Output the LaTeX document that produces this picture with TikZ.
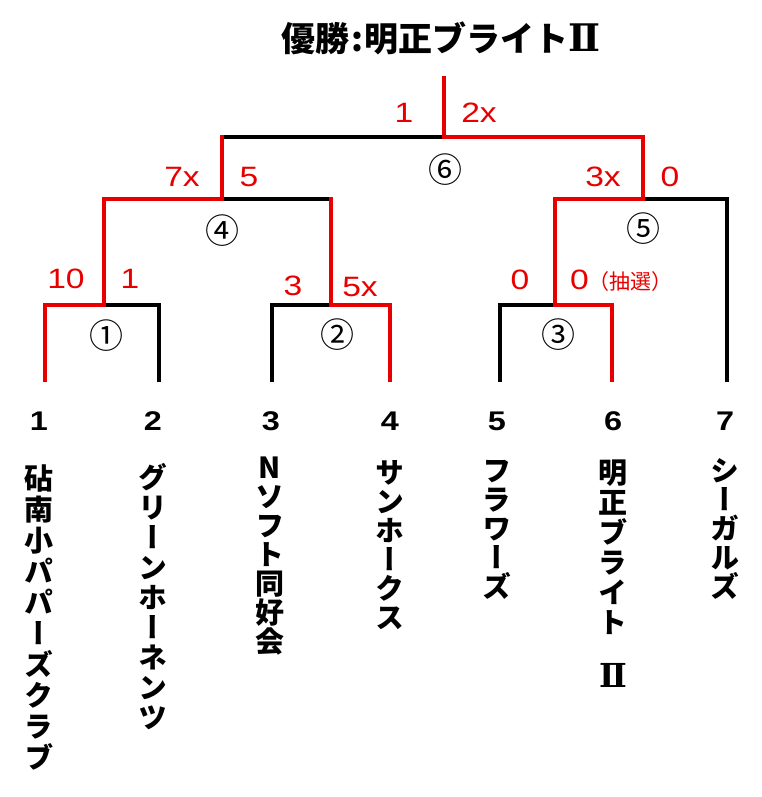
\documentclass[tikz,border=0pt]{standalone}
\usepackage{fontspec}
\newfontfamily\jp{Noto Sans CJK JP}
\newfontfamily\jpv[RawFeature=+vert]{Noto Sans CJK JP}
\newfontfamily\numf[FakeStretch=1.2]{Liberation Sans}
\newfontfamily\romB{DejaVu Serif}
\definecolor{wred}{RGB}{232,0,0}
\tikzset{
  bline/.style={line width=3.2pt, black, line cap=rect},
  rline/.style={line width=3.2pt, wred, line cap=rect},
  lab/.style={inner sep=0pt, text=wred, font=\numf\fontsize{28}{28}\selectfont},
  circ/.style={inner sep=0pt, font=\jp\fontsize{34}{34}\selectfont},
  seed/.style={inner sep=0pt, font=\numf\bfseries\fontsize{27}{27}\selectfont},
  team/.style={inner sep=0pt, anchor=north, align=center},
}
\newcommand\vfont[1]{\jpv\bfseries\fontsize{29}{#1}\selectfont\lineskiplimit=-100pt }
\begin{document}
\begin{tikzpicture}[x=1pt,y=-1pt]
\useasboundingbox (0,0) rectangle (761,797);
\fill[white] (0,0) rectangle (761,797);

% title
\node[inner sep=0pt, font=\jp\bfseries\fontsize{34}{34}\selectfont] (title) at (441,38) {優勝\kern1.5pt:\kern1.5pt明正ブライト{\romB\bfseries\fontsize{38}{38}\selectfont Ⅱ}};

% bracket points
\coordinate (L1) at (45,380);  \coordinate (L2) at (159,380);
\coordinate (L3) at (272,380); \coordinate (L4) at (390,380);
\coordinate (L5) at (500,380); \coordinate (L6) at (612,380);
\coordinate (L7) at (727,380);
\coordinate (A1) at (45,305);  \coordinate (M1) at (104,305); \coordinate (B1) at (159,305);
\coordinate (A2) at (272,305); \coordinate (M2) at (331,305); \coordinate (B2) at (390,305);
\coordinate (A3) at (500,305); \coordinate (M3) at (555,305); \coordinate (B3) at (612,305);
\coordinate (A4) at (104,199); \coordinate (M4) at (222,199); \coordinate (B4) at (331,199);
\coordinate (A5) at (555,199); \coordinate (M5) at (643,199); \coordinate (B5) at (727,199);
\coordinate (A6) at (222,137); \coordinate (M6) at (444,137); \coordinate (B6) at (643,137);
\coordinate (T) at (444,78);

% black (losing) lines
\draw[bline] (M1) -- (B1) -- (L2);
\draw[bline] (L3) -- (A2) -- (M2);
\draw[bline] (L5) -- (A3) -- (M3);
\draw[bline] (M4) -- (B4);
\draw[bline] (M5) -- (B5) -- (L7);
\draw[bline] (A6) -- (M6);

% red (winning) lines
\draw[rline] (L1) -- (A1) -- (M1) -- (A4) -- (M4) -- (A6);
\draw[rline] (L4) -- (B2) -- (M2) -- (B4);
\draw[rline] (T) -- (M6) -- (B6) -- (M5) -- (A5) -- (M3) -- (B3) -- (L6);

% scores
\node[lab] (s6l) at (404,113) {1};
\node[lab] (s6r) at (479,113) {2x};
\node[lab] (s4l) at (182,177) {7x};
\node[lab] (s4r) at (249,177) {5};
\node[lab] (s5l) at (603,177) {3x};
\node[lab] (s5r) at (670,177) {0};
\node[lab] (s1l) at (66,279) {10};
\node[lab] (s1r) at (130,279) {1};
\node[lab] (s2l) at (293,286) {3};
\node[lab] (s2r) at (360,287) {5x};
\node[lab] (s3l) at (520,280) {0};
\node[lab, anchor=west] (s3r) at (570,281) {0{\jp\fontsize{21}{21}\selectfont（抽選）}};

% match numbers
\node[circ] (m6) at (445,170) {⑥};
\node[circ] (m4) at (222,231) {④};
\node[circ] (m5) at (643,229) {⑤};
\node[circ] (m1) at (106,336) {①};
\node[circ] (m2) at (337,335) {②};
\node[circ] (m3) at (558,335) {③};

% seeds
\node[seed] (n1) at (39,421) {1};
\node[seed] (n2) at (153,421) {2};
\node[seed] (n3) at (271,421) {3};
\node[seed] (n4) at (390,421) {4};
\node[seed] (n5) at (497,421) {5};
\node[seed] (n6) at (613,421) {6};
\node[seed] (n7) at (725,421) {7};

% team names (vertical)
\node[team, font=\vfont{31}] (t1) at (39,465) {砧\\南\\小\\パ\\パ\\ー\\ズ\\ク\\ラ\\ブ};
\node[team, font=\vfont{30}] (t2) at (153,463) {グ\\リ\\ー\\ン\\ホ\\ー\\ネ\\ン\\ツ};
\node[team, font=\vfont{29}] (t3) at (270,457) {N\\ソ\\フ\\ト\\同\\好\\会};
\node[team, font=\vfont{29}] (t4) at (390,460) {サ\\ン\\ホ\\ー\\ク\\ス};
\node[team, font=\vfont{29}] (t5) at (497,460) {フ\\ラ\\ワ\\ー\\ズ};
\node[team, font=\vfont{30}] (t6) at (613,460) {明\\正\\ブ\\ラ\\イ\\ト\\[24pt]{\romB\bfseries\fontsize{33}{33}\selectfont Ⅱ}};
\node[team, font=\vfont{29}] (t7) at (725,458) {シ\\ー\\ガ\\ル\\ズ};
\end{tikzpicture}
\end{document}
